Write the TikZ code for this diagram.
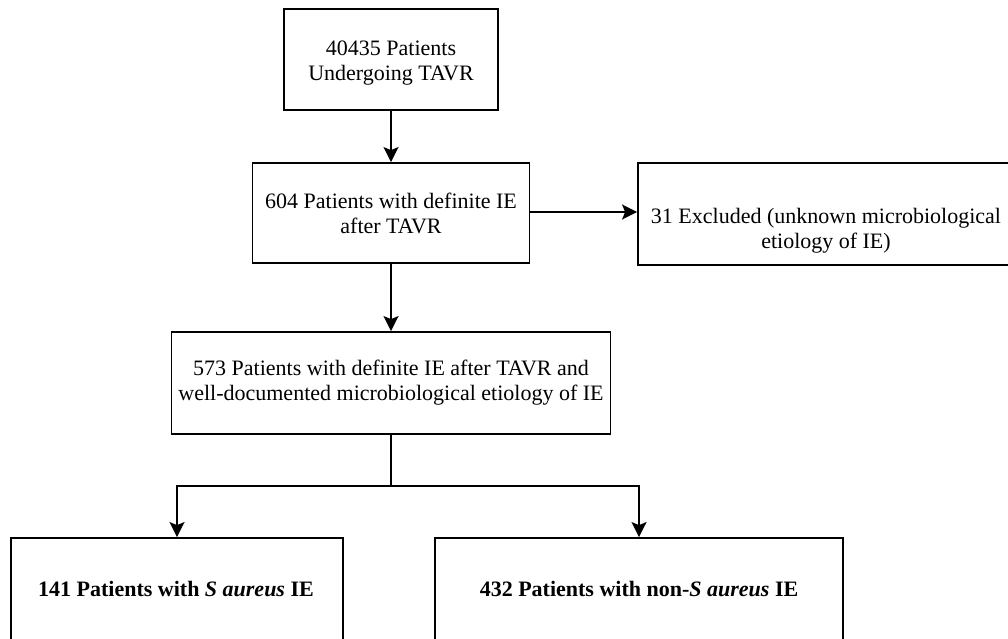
\documentclass[tikz,border=0pt]{standalone}
\usepackage{fontspec}
\setmainfont{Liberation Serif}
\usetikzlibrary{arrows.meta}
\begin{document}
\begin{tikzpicture}[x=1pt,y=-1pt,
  box/.style={draw=black, line width=1.8pt, rectangle, inner sep=0pt, align=center,
    font=\fontsize{22}{25}\selectfont},
  txt/.style={inner sep=0pt, align=center, font=\fontsize{22}{25}\selectfont},
  conn/.style={draw=black, line width=1.8pt, -{Stealth[length=15pt,width=15pt,inset=3pt]}},
  line/.style={draw=black, line width=1.8pt}]
\useasboundingbox (0,0) rectangle (1008,639);
\fill[white] (0,0) rectangle (1008,639);
\node[box, minimum width=214pt, minimum height=101pt] (b1) at (391,59.5) {};
\node[txt] (t1) at (391,63) {40435 Patients\\Undergoing TAVR};
\node[box, minimum width=277pt, minimum height=100pt] (b2) at (391,213) {604 Patients with definite IE\\after TAVR};
\node[box, minimum width=380pt, minimum height=102pt] (b3) at (828,214) {};
\node[txt] (t3) at (826,231) {31 Excluded (unknown microbiological\\etiology of IE)};
\node[box, minimum width=439pt, minimum height=102pt] (b4) at (391,383) {573 Patients with definite IE after TAVR and\\well-documented microbiological etiology of IE};
\node[box, minimum width=332pt, minimum height=103pt] (b5) at (177,589.5) {};
\node[txt] (t5) at (176,589) {\textbf{141 Patients with \textit{S aureus} IE}};
\node[box, minimum width=408pt, minimum height=103pt] (b6) at (639,589.5) {};
\node[txt] (t6) at (639,589) {\textbf{432 Patients with non-\textit{S aureus} IE}};
\coordinate (j) at (391,486);
\draw[conn] (b1.south) -- (b2.north);
\draw[conn] (b2.east |- 0,212) -- (b3.west |- 0,212);
\draw[conn] (b2.south) -- (b4.north);
\draw[line] (b4.south) -- (j);
\draw[conn] (j) -| (b5.north);
\draw[conn] (j) -| (b6.north);
\end{tikzpicture}
\end{document}
